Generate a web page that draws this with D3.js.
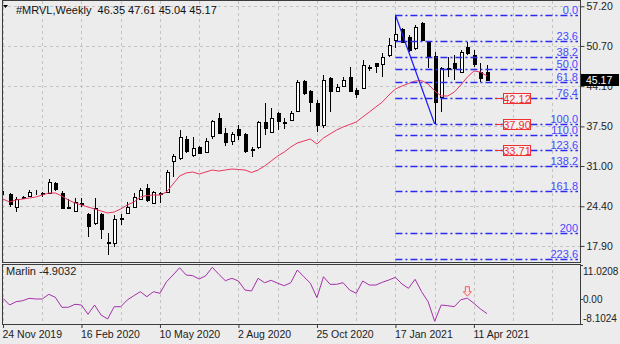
<!DOCTYPE html>
<html>
<head>
<meta charset="utf-8">
<script src="https://cdn.jsdelivr.net/npm/d3@7"></script>
<style>
  html, body { margin: 0; padding: 0; background: #ececec; }
  svg { display: block; font-family: "Liberation Sans", Arial, sans-serif; }
</style>
</head>
<body>
<svg id="chart" width="620" height="344"></svg>
<script>
// ---- data: weekly MRVL bars, 24 Nov 2019 .. 25 Apr 2021 ----
const symbol = "#MRVL,Weekly";
const opens = [26.45,26.41,24.28,25.7,26.08,26.6,26.5,26.58,28.22,26.5,
  24.3,23.62,25.0,23.13,21.66,23.13,18.6,18.37,22.3,23.3,
  24.28,25.59,27.4,24.94,26.4,26.74,31.82,32.31,35.43,32.81,
  34.12,33.3,35.93,38.88,36.42,35.1,37.07,36.25,33.8,34.12,
  38.22,36.58,39.7,38.15,38.55,40.03,44.94,43.31,41.34,37.73,
  45.44,43.31,44.12,45.6,43.47,43.8,47.2,47.9,47.73,49.21,
  51.67,53.48,52.17,50.36,54.46,51.34,49.05,42.32,47.1,47.9,
  46.42,50.52,49.21,46.42,46.35];
const highs = [26.95,26.58,25.92,26.1,27.07,27.07,26.75,28.87,28.38,26.9,
  25.6,25.75,25.75,23.3,25.75,23.3,20.0,22.97,23.1,25.1,
  26.58,27.4,28.05,26.9,26.75,30.35,32.97,36.91,35.93,35.76,
  34.29,35.6,38.55,39.7,37.24,36.6,37.73,36.42,34.1,38.38,
  41.34,40.52,39.86,38.88,40.03,45.11,45.11,43.47,41.83,45.93,
  45.6,44.45,45.6,47.24,43.8,48.39,47.57,47.9,49.54,51.99,
  55.78,53.64,52.49,54.13,54.62,51.5,49.7,47.24,48.88,49.21,
  50.03,51.34,50.03,47.9,47.61];
const lows = [26.2,24.28,23.46,25.6,25.92,26.25,25.95,26.5,26.9,23.9,
  23.9,23.46,24.3,19.36,21.3,19.03,16.41,17.72,21.3,23.1,
  24.1,25.43,25.1,24.8,24.95,26.6,29.2,31.99,33.13,32.48,
  32.97,33.13,35.43,36.25,34.29,34.45,35.27,33.13,32.5,33.8,
  36.09,36.42,36.91,37.07,38.38,39.86,42.65,39.86,36.58,37.24,
  39.86,43.14,43.96,43.14,42.16,43.6,46.6,46.3,45.6,48.88,
  50.36,51.18,49.7,50.03,51.5,47.08,37.90,39.86,45.6,45.11,
  46.26,49.21,47.24,44.78,45.04];
const closes = [26.4,24.77,25.59,25.9,26.74,26.65,26.4,28.38,27.24,24.1,
  24.15,25.1,24.85,21.17,24.12,20.67,18.4,22.31,22.5,24.28,
  25.92,27.07,25.43,26.74,26.6,30.02,32.64,35.76,33.46,33.96,
  33.13,35.1,38.38,36.42,34.94,36.25,36.09,33.46,33.6,38.22,
  37.24,38.88,38.38,38.05,39.7,44.78,42.98,41.5,37.73,45.11,
  43.31,43.96,45.11,43.31,42.81,47.57,47.0,47.4,48.88,50.85,
  52.66,51.34,50.03,53.8,51.67,48.88,41.5,47.08,46.9,47.1,
  49.7,49.54,47.73,45.44,45.17];
// moving average drawn over the bars
const maValues = [25.59,25.1,25.43,25.59,25.75,25.92,26.25,26.58,26.58,26.08,
  25.43,24.94,24.61,24.28,23.95,23.62,23.3,23.46,23.95,24.61,
  25.1,25.92,26.17,26.25,26.25,26.74,28.05,29.36,29.86,30.02,
  29.69,30.02,30.35,30.18,30.35,30.51,30.43,30.35,29.94,30.35,
  31.0,31.82,32.64,33.3,34.12,34.78,35.1,35.43,34.61,35.6,
  36.25,36.91,37.4,37.81,38.22,39.04,39.86,40.68,41.5,42.65,
  43.63,44.12,44.53,44.94,45.02,44.45,43.31,42.49,42.49,43.14,
  44.29,45.6,46.59,46.42,45.77];
// Marlin oscillator (sub window)
const marlinValues = [0.06,-2.11,-1.04,-0.71,0.06,-0.16,-0.16,1.36,0.39,-2.85,
  -2.85,-1.88,-2.11,-5.12,-2.11,-5.35,-6.64,-2.66,-2.66,-0.49,
  0.91,2.2,0.58,2.2,1.69,5.44,7.62,9.98,7.62,7.39,
  6.32,7.39,10.11,7.84,5.77,6.55,5.67,2.75,2.43,6.55,
  5.12,5.9,4.93,4.15,5.12,9.24,7.06,4.93,0.26,7.06,
  4.6,4.6,5.12,2.75,1.69,5.67,4.37,4.37,5.25,6.0,
  6.87,4.7,3.3,6.22,2.2,-1.04,-7.4,-2.11,-2.33,-2.66,
  -0.4,0.1,-1.56,-3.4,-4.9032];

const priceTicks = [57.20, 50.70, 44.10, 37.50, 31.00, 24.40, 17.90];
const marlinTicks = [11.0208, 0.00, -8.1024];
const dateLabels = ["24 Nov 2019", "16 Feb 2020", "10 May 2020", "2 Aug 2020",
                    "25 Oct 2020", "17 Jan 2021", "11 Apr 2021"];
const barsPerDateLabel = 12;
const barsPerGrid = 6;

// Fibonacci retracement from the swing high bar to the swing low bar
const fibLabels = ["0.0","23.6","38.2","50.0","61.8","76.4","100.0","110.0",
                   "123.6","138.2","161.8","200","223.6"];
const fibHigh = 55.78, fibLow = 37.90;
const fibHighBar = 60, fibLowBar = 66;
const targetLevels = [42.12, 37.90, 33.71];
const signalBar = 71;

// ---- layout ----
const svg = d3.select("#chart");
const W = 620, H = 344;
const main = { left: 2, right: 580, top: 1, bottom: 262 };
const sub = { top: 264, bottom: 324 };
const n = closes.length;
const axisFont = 10.5;

const x = d3.scaleLinear().domain([0, n - 1]).range([3, 487]);
const y = d3.scaleLinear().domain([57.2, 17.9]).range([6.3, 245.9]);
const ym = d3.scaleLinear().domain([11.0208, -8.1024]).range([sub.top + 0.5, sub.bottom - 0.5]);
const px = i => Math.round(x(i)) + 0.5;

svg.append("rect").attr("width", W).attr("height", H).attr("fill", "#ececec");

const defs = svg.append("defs");
defs.append("clipPath").attr("id", "clipMain").append("rect")
  .attr("x", main.left).attr("y", main.top)
  .attr("width", main.right - main.left).attr("height", main.bottom - main.top);
defs.append("clipPath").attr("id", "clipSub").append("rect")
  .attr("x", main.left).attr("y", sub.top)
  .attr("width", main.right - main.left).attr("height", sub.bottom - sub.top);

// ---- grid ----
const gridColor = "#c3c3c3";
const gridBars = d3.range(0, 100, barsPerGrid).filter(i => x(i) < main.right - 2);
const grid = svg.append("g").attr("stroke", gridColor).attr("stroke-dasharray", "3,3")
  .attr("shape-rendering", "crispEdges");
gridBars.forEach(i => {
  grid.append("line").attr("x1", px(i)).attr("x2", px(i))
    .attr("y1", main.top).attr("y2", main.bottom);
  grid.append("line").attr("x1", px(i)).attr("x2", px(i))
    .attr("y1", sub.top).attr("y2", sub.bottom);
});
priceTicks.forEach(p => {
  const yy = Math.round(y(p)) + 0.5;
  grid.append("line").attr("x1", main.left).attr("x2", main.right)
    .attr("y1", yy).attr("y2", yy);
});

// ---- candles ----
const gMain = svg.append("g").attr("clip-path", "url(#clipMain)");
const bars = d3.range(n).map(i => ({ i, o: opens[i], h: highs[i], l: lows[i], c: closes[i] }));
const candle = gMain.append("g").attr("shape-rendering", "crispEdges")
  .selectAll("g").data(bars).join("g");
candle.append("line")
  .attr("x1", d => px(d.i)).attr("x2", d => px(d.i))
  .attr("y1", d => Math.round(y(d.h))).attr("y2", d => Math.round(y(d.l)))
  .attr("stroke", "#000");
candle.append("rect")
  .attr("x", d => px(d.i) - 1.5)
  .attr("width", 3)
  .attr("y", d => Math.round(y(Math.max(d.o, d.c))) + 0.5)
  .attr("height", d => Math.max(0, Math.round(y(Math.min(d.o, d.c))) - Math.round(y(Math.max(d.o, d.c)))))
  .attr("fill", d => d.c >= d.o ? "#fff" : "#000")
  .attr("stroke", "#000");

// ---- moving average ----
gMain.append("path")
  .datum(maValues)
  .attr("fill", "none").attr("stroke", "#e8365e").attr("stroke-width", 1)
  .attr("d", d3.line().x((d, i) => x(i)).y(d => y(d)));

// ---- fibonacci levels ----
const fibColor = "#2a2af0";
const gFib = svg.append("g");
fibLabels.forEach(lbl => {
  const lvl = parseFloat(lbl);
  const price = fibHigh - (fibHigh - fibLow) * lvl / 100;
  const yy = Math.round(y(price)) + 0.5;
  gFib.append("line")
    .attr("x1", x(fibHighBar)).attr("x2", main.right - 2)
    .attr("y1", yy).attr("y2", yy)
    .attr("stroke", fibColor).attr("stroke-width", 1.3)
    .attr("stroke-dasharray", "7,3,2,3");
  gFib.append("text")
    .attr("x", main.right - 2).attr("y", yy - 1.5)
    .attr("text-anchor", "end").attr("font-size", 11)
    .attr("fill", "#4848ff").text(lbl);
});
// trend line from swing high to swing low
gFib.append("line")
  .attr("x1", x(fibHighBar)).attr("y1", y(fibHigh))
  .attr("x2", x(fibLowBar)).attr("y2", y(fibLow))
  .attr("stroke", "#1c1cf5").attr("stroke-width", 1.2);

// ---- target tags ----
const tagColor = "#f03030";
targetLevels.forEach(t => {
  const yy = Math.round(y(t)) + 0.5;
  gFib.append("line").attr("x1", 495).attr("x2", 503.5)
    .attr("y1", yy).attr("y2", yy).attr("stroke", tagColor);
  gFib.append("rect").attr("x", 503.5).attr("y", yy - 5)
    .attr("width", 27).attr("height", 10)
    .attr("fill", "#f2f2f2").attr("stroke", tagColor);
  gFib.append("text").attr("x", 517).attr("y", yy + 4)
    .attr("text-anchor", "middle").attr("font-size", 11)
    .attr("fill", tagColor).text(t.toFixed(2));
});

// ---- Marlin sub window ----
const gSub = svg.append("g").attr("clip-path", "url(#clipSub)");
gSub.append("path")
  .datum(marlinValues)
  .attr("fill", "none").attr("stroke", "#a630aa").attr("stroke-width", 1)
  .attr("d", d3.line().x((d, i) => x(i)).y(d => ym(d)));
// signal arrow above the oscillator
{
  const cx = x(signalBar), top = ym(marlinValues[signalBar]) - 11.5;
  gSub.append("path")
    .attr("d", `M${cx - 2},${top} H${cx + 2} V${top + 5} H${cx + 4} L${cx},${top + 9.5} L${cx - 4},${top + 5} H${cx - 2} Z`)
    .attr("fill", "#fbe3e3").attr("stroke", "#f25a5a").attr("stroke-width", 1);
}
svg.append("text").attr("x", 6).attr("y", 275).attr("font-size", 11).attr("fill", "#222")
  .text("Marlin " + marlinValues[n - 1].toFixed(4));

// ---- frames ----
const frame = svg.append("g").attr("fill", "none").attr("stroke", "#3c3c3c")
  .attr("shape-rendering", "crispEdges");
frame.append("rect").attr("x", main.left + 0.5).attr("y", main.top - 0.5)
  .attr("width", main.right - main.left).attr("height", main.bottom - main.top + 0.5);
frame.append("rect").attr("x", main.left + 0.5).attr("y", sub.top + 0.5)
  .attr("width", main.right - main.left).attr("height", sub.bottom - sub.top);

// ---- price axis ----
const axisY = svg.append("g").attr("transform", `translate(${main.right + 0.5},0)`)
  .call(d3.axisRight(y).tickValues(priceTicks).tickFormat(d3.format(".2f")).tickSize(4).tickPadding(2));
axisY.select(".domain").remove();
axisY.selectAll("line").attr("stroke", "#3c3c3c");
axisY.selectAll("text").attr("font-size", axisFont).attr("fill", "#222")
  .attr("font-family", "'Liberation Sans', Arial, sans-serif");

// last price marker
{
  const last = closes[n - 1], yy = Math.round(y(last));
  svg.append("rect").attr("x", main.right + 1).attr("y", yy - 6)
    .attr("width", 38).attr("height", 12).attr("fill", "#000");
  svg.append("text").attr("x", main.right + 6).attr("y", yy + 4)
    .attr("font-size", axisFont).attr("fill", "#fff").text(last.toFixed(2));
}

// ---- Marlin axis ----
const subLabelY = [sub.top + 11, ym(0) + 4, sub.bottom - 2];
marlinTicks.forEach((v, k) => {
  const yy = Math.round(ym(v)) + 0.5;
  svg.append("line").attr("x1", main.right).attr("x2", main.right + 3)
    .attr("y1", yy).attr("y2", yy).attr("stroke", "#3c3c3c");
  svg.append("text").attr("x", main.right + 3).attr("y", subLabelY[k])
    .attr("font-size", 10).attr("fill", "#222")
    .text(v === 0 ? "0.00" : String(v));
});

// ---- time axis ----
const axisX = svg.append("g").attr("transform", `translate(0,${sub.bottom})`)
  .call(d3.axisBottom(x)
    .tickValues(dateLabels.map((d, k) => k * barsPerDateLabel))
    .tickFormat((d, k) => dateLabels[k]).tickSize(4).tickPadding(3));
axisX.select(".domain").remove();
axisX.selectAll("line").attr("stroke", "#3c3c3c");
axisX.selectAll("text").attr("font-size", axisFont).attr("fill", "#222")
  .attr("text-anchor", "start").attr("x", -1)
  .attr("font-family", "'Liberation Sans', Arial, sans-serif");

// ---- title ----
svg.append("path").attr("d", "M3,5 H8 L5.5,8 Z").attr("fill", "#000");
svg.append("text").attr("x", 16).attr("y", 14).attr("font-size", 11).attr("fill", "#111")
  .attr("xml:space", "preserve").style("white-space", "pre")
  .text(`${symbol}  ${opens[n - 1].toFixed(2)} ${highs[n - 1].toFixed(2)} ${lows[n - 1].toFixed(2)} ${closes[n - 1].toFixed(2)}`);
</script>
</body>
</html>
